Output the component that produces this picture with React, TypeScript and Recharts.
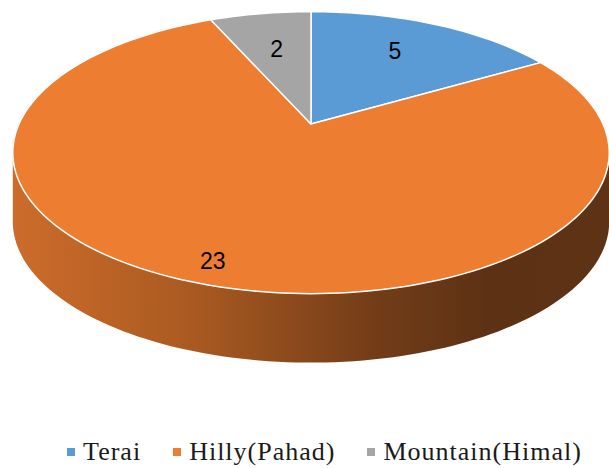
import React from 'react';
import { PieChart, Pie, Cell, Legend } from 'recharts';

const categories = ['Terai', 'Hilly(Pahad)', 'Mountain(Himal)'];
const values = [5, 23, 2];
const colors = ['#5B9BD5', '#ED7D31', '#A5A5A5'];

const data = categories.map((name, i) => ({ name, value: values[i] }));

const K = 0.203; // perspective strength
const KY = 0.463; // vertical squash of the disk
const DEPTH = 69; // thickness of the 3D pie

function project(cx: number, cy: number, R: number, f: number, deg: number): [number, number] {
  const t = (deg * Math.PI) / 180;
  const u = f * Math.cos(t);
  const v = f * Math.sin(t);
  const w = 1 + K * v;
  return [cx + (R * u) / w, cy - (R * KY * v) / w];
}

const EDGE = (Math.asin(K) * 180) / Math.PI;

const Sector3D = (props: any) => {
  const { cx, cy, outerRadius, startAngle, endAngle, fill, index } = props;
  const R = outerRadius;
  const n = Math.max(2, Math.ceil(Math.abs(endAngle - startAngle) / 1.5));
  const pts: [number, number][] = [];
  for (let i = 0; i <= n; i++) {
    const a = startAngle + ((endAngle - startAngle) * i) / n;
    pts.push(project(cx, cy, R, 1, a));
  }
  const top = `M${cx},${cy} L` + pts.map((p) => `${p[0].toFixed(2)},${p[1].toFixed(2)}`).join(' L') + ' Z';

  const lo = Math.min(startAngle, endAngle);
  const hi = Math.max(startAngle, endAngle);
  const vLo = 180 + EDGE;
  const vHi = 360 - EDGE;
  let side: string | null = null;
  for (const shift of [-720, -360, 0, 360, 720]) {
    const a0 = Math.max(lo + shift, vLo);
    const a1 = Math.min(hi + shift, vHi);
    if (a1 > a0) {
      const m = Math.max(2, Math.ceil((a1 - a0) / 1.5));
      const upper: [number, number][] = [];
      for (let i = 0; i <= m; i++) {
        upper.push(project(cx, cy, R, 1, a0 + ((a1 - a0) * i) / m));
      }
      const lower = upper.slice().reverse().map((p) => [p[0], p[1] + DEPTH]);
      side =
        'M' +
        upper.map((p) => `${p[0].toFixed(2)},${p[1].toFixed(2)}`).join(' L') +
        ' L' +
        lower.map((p) => `${p[0].toFixed(2)},${p[1].toFixed(2)}`).join(' L') +
        ' Z';
      break;
    }
  }
  const gid = `side-grad-${index}`;
  return (
    <g>
      {side && (
        <>
          <defs>
            <linearGradient id={gid} x1="0" y1="0" x2="1" y2="0">
              <stop offset="0" stopColor="#CC6C2B" />
              <stop offset="0.3" stopColor="#AA5A21" />
              <stop offset="0.6" stopColor="#743D18" />
              <stop offset="0.8" stopColor="#5C3114" />
              <stop offset="1" stopColor="#5E3215" />
            </linearGradient>
          </defs>
          <path d={side} fill={`url(#${gid})`} stroke="none" />
        </>
      )}
      <path d={top} fill={fill} stroke="#FFFFFF" strokeWidth={1.5} strokeLinejoin="round" />
    </g>
  );
};

const renderLabel = (props: any) => {
  const { cx, cy, midAngle, outerRadius, percent, index } = props;
  const big = percent > 0.5;
  const f = big ? 0.9 : 0.64;
  const [x, y] = project(cx, cy, outerRadius, f, midAngle);
  return (
    <text
      x={x}
      y={big ? y - 3 : y - (index === 0 ? 6 : 0)}
      textAnchor="middle"
      dominantBaseline="central"
      fill="#000000"
      style={{ fontFamily: '"Liberation Sans", Arial, sans-serif', fontSize: 23 }}
    >
      {values[index]}
    </text>
  );
};

const renderLegend = () => (
  <div
    style={{
      display: 'flex',
      justifyContent: 'center',
      alignItems: 'center',
      fontFamily: '"Liberation Serif", serif',
      fontSize: 26,
      letterSpacing: 1,
      color: '#1a1a1a',
      lineHeight: '32px',
      paddingLeft: 40,
    }}
  >
    {categories.map((c, i) => (
      <div key={c} style={{ display: 'flex', alignItems: 'center', marginRight: i < categories.length - 1 ? 32 : 0 }}>
        <span style={{ display: 'inline-block', width: 8, height: 8, background: colors[i], marginRight: 8 }} />
        <span>{c}</span>
      </div>
    ))}
  </div>
);

export default function App() {
  return (
    <div style={{ position: 'absolute', left: 0, top: 0, width: 609, height: 468, background: '#fff' }}>
      <PieChart width={609} height={468} margin={{ top: 0, right: 0, bottom: 0, left: 0 }}>
        <Pie
          data={data}
          dataKey="value"
          nameKey="name"
          cx={311}
          cy={124}
          outerRadius={292}
          startAngle={90}
          endAngle={-270}
          isAnimationActive={false}
          label={renderLabel}
          labelLine={false}
          shape={Sector3D}
          activeShape={Sector3D}
          inactiveShape={Sector3D}
        >
          {data.map((d, i) => (
            <Cell key={d.name} fill={colors[i]} />
          ))}
        </Pie>
        <Legend verticalAlign="bottom" content={renderLegend} wrapperStyle={{ bottom: 0 }} />
      </PieChart>
    </div>
  );
}
